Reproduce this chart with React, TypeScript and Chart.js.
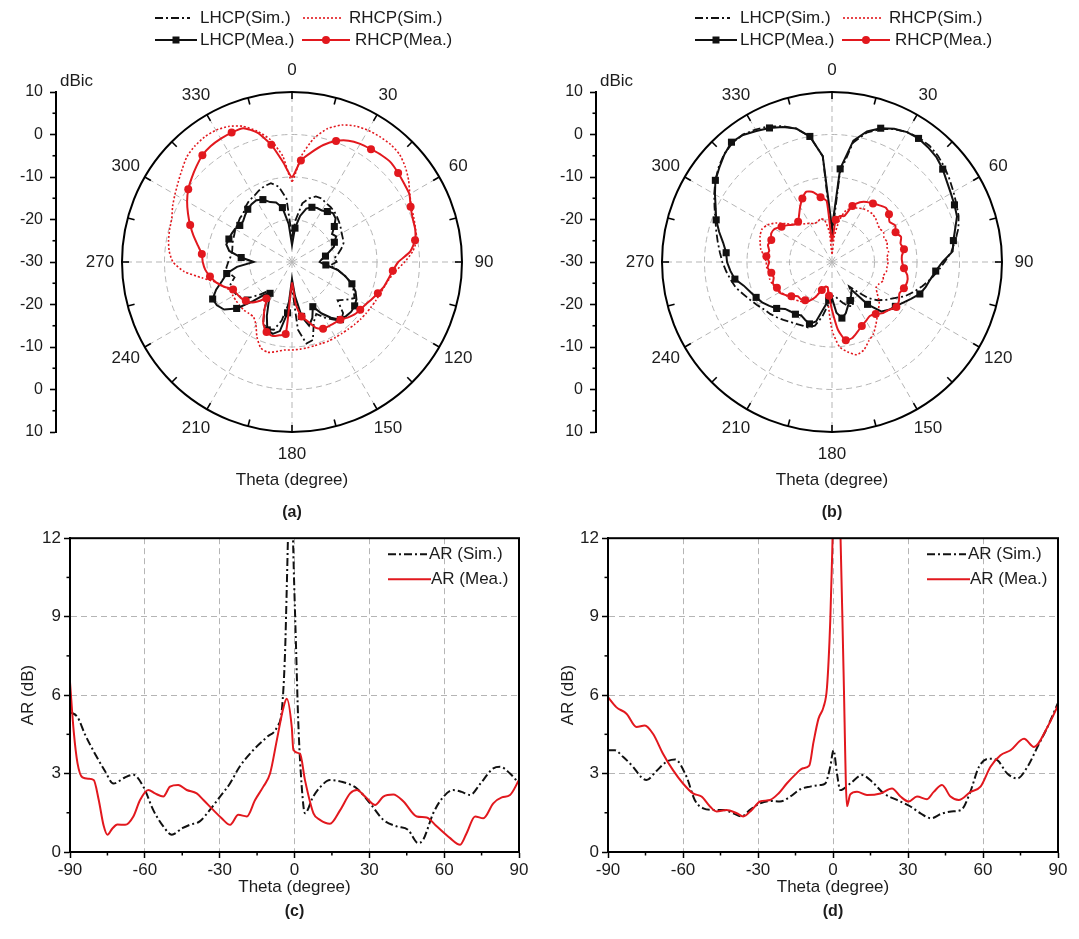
import React, { useEffect, useRef } from 'react';
import { Chart, registerables } from 'chart.js';

Chart.register(...registerables);

const FONT = '"Liberation Sans", Arial, Helvetica, sans-serif';
Chart.defaults.font.family = FONT;
Chart.defaults.color = '#1c1c1c';

const RED = '#e2181e';
const INK = '#111111';
const GRID = '#b5b5b5';
const TEXT = '#1c1c1c';

// ---------- polar panels (a), (b) ----------
const ANGLES = [
  0, 5, 10, 15, 20, 25, 30, 35, 40, 45, 50, 55,
  60, 65, 70, 75, 80, 85, 90, 95, 100, 105, 110, 115,
  120, 125, 130, 135, 140, 145, 150, 155, 160, 165, 170, 175,
  180, 185, 190, 195, 200, 205, 210, 215, 220, 225, 230, 235,
  240, 245, 250, 255, 260, 265, 270, 275, 280, 285, 290, 295,
  300, 305, 310, 315, 320, 325, 330, 335, 340, 345, 350, 355,
];
const DB_TICK_LABELS = ['10', '0', '-10', '-20', '-30', '-20', '-10', '0', '10'];
const DB_MINOR = [-3.5, -2.5, -1.5, -0.5, 0.5, 1.5, 2.5, 3.5];

const A_LHCP_SIM = [
  -24, -20, -16, -14.5, -13.6, -13.5, -14, -14.2, -14.5, -15, -15.5, -16,
  -16.5, -16.8, -17.1, -18, -19, -20, -19.5, -21, -19, -17, -15, -14,
  -13, -14.5, -16, -13, -12, -13.5, -15, -16.5, -15, -11, -10.5, -14,
  -24, -20, -16, -13.5, -13.2, -14, -17, -20, -21, -19, -17, -15.5,
  -14.8, -14.5, -14.6, -16, -15, -14.5, -15, -15.5, -15.7, -15.5, -15.2, -15,
  -14.6, -14.4, -14, -13.8, -13, -12.4, -12.1, -11.5, -11, -10.8, -12, -15,
];
const A_LHCP_MEA = [
  -26, -22, -19, -17, -16.3, -16, -16, -15.5, -15, -15.5, -17, -18.5,
  -18, -19, -19.5, -21, -22, -23, -23.5, -22, -19, -17, -15, -13.5,
  -12.5, -12, -11.8, -12, -12.3, -14, -16, -18.4, -16, -14.5, -17, -22,
  -26, -18, -13.5, -12.5, -13, -16, -19, -21, -20, -17, -13, -10.5,
  -9.6, -9.4, -11, -13, -14.4, -17, -21, -18, -15, -14, -14.2, -14.3,
  -14.5, -15, -15, -14.4, -13.8, -13.4, -13.2, -13.8, -15, -15.5, -17, -21,
];
const A_RHCP_SIM = [
  -11, -5, -0.5, 2.5, 4.3, 5.3, 5.8, 6.0, 6.1, 5.8, 4.8, 3.5,
  2.0, 1.0, 0.5, 0.1, -0.2, -1.5, -3.5, -5.5, -6.8, -7.5, -8.0, -8.3,
  -8.6, -8.8, -9.0, -9.2, -9.4, -9.5, -9.5, -9.5, -9.6, -9.6, -9.5, -9.4,
  -9.3, -9.2, -8.6, -8.0, -8.5, -10.5, -13, -14.2, -14.2, -14, -14, -14,
  -14, -14, -13, -11.5, -8.5, -4.5, -2, -1, -0.5, -0.2, 0.1, 1.0,
  1.8, 2.7, 3.8, 5.0, 5.6, 5.9, 5.8, 5.2, 4.0, 1.9, -0.8, -5,
];
const A_RHCP_MEA = [
  -10, -6, -3.8, -1.5, 0.3, 1.5, 2.1, 2.4, 2.8, 3.0, 2.6, 2.2,
  1.9, 0.8, 0.2, 0.0, -0.6, -2.1, -5, -6.2, -7.0, -7.6, -8.5, -9.3,
  -10, -10.4, -10.8, -11.5, -12.3, -12.5, -12.6, -12.7, -13.5, -15.5, -17, -20,
  -25, -13, -12.5, -12, -12.5, -14, -17, -19.5, -18, -16.5, -15.8, -15.3,
  -15, -14.7, -13, -11.5, -10.4, -9.5, -9, -8.7, -7.5, -6, -4.5, -3,
  -1.5, -0.2, 0.8, 1.8, 2.8, 3.3, 3.5, 3.6, 3.5, 1.5, -2, -6.5,
];

const B_LHCP_SIM = [
  -24, -9, -1.5, 1.5, 3.3, 4.5, 5.3, 5.7, 5.7, 5.3, 4.6, 3.8,
  3.0, 2.3, 1.7, 0.8, -0.5, -1.8, -3.5, -5, -6.5, -8, -9.5, -11,
  -13, -14.5, -16, -18, -21, -23, -20, -18.5, -19, -20, -21, -22,
  -22, -20, -17, -14.5, -13.6, -13.5, -13.2, -12.8, -12.2, -11.6, -11, -10.5,
  -9.7, -8.8, -7.8, -6.6, -5.8, -5, -4.2, -3.5, -2.7, -1.8, -0.8, 0.5,
  2, 3.5, 4.8, 5.9, 6.5, 6.6, 6.0, 5.2, 4.0, 2.5, 0, -5,
];
const B_LHCP_MEA = [
  -22, -8, -1, 1.8, 3.5, 4.6, 5.3, 5.5, 5.2, 4.8, 4.0, 3.0,
  2.3, 1.8, 1.3, 0.0, -1.0, -1.5, -4.0, -5.5, -6.5, -7.2, -8.0, -9.5,
  -10.8, -11.8, -12.5, -13.5, -17, -22, -21, -20, -19, -17.5, -16.6, -18,
  -21.5, -21, -19, -15.5, -14.5, -15, -15.5, -15, -14.8, -14.4, -13, -12,
  -11, -10.3, -9.5, -8.5, -6.8, -6, -5.3, -5, -4, -2.5, -1, 0.2,
  1.8, 3.5, 4.6, 5.8, 6.8, 6.5, 5.6, 4.8, 3.8, 2.5, 0, -5,
];
const B_RHCP_SIM = [
  -28, -24, -20, -17.5, -16.5, -16, -15.5, -15.3, -15.2, -15.5, -16, -16.3,
  -16, -16.5, -16.2, -16.6, -16.5, -17, -16.8, -17, -17, -17.5, -17.2, -17.8,
  -18, -17, -15.5, -14.5, -13.4, -12, -10.5, -9.5, -8, -7.4, -8.5, -10,
  -14, -20, -24, -24, -23, -21, -19.5, -18.5, -18, -17.5, -17, -16.5,
  -16, -15.5, -15, -14.8, -15, -14.6, -14.5, -14, -13, -12.5, -12, -11.8,
  -12.5, -14, -16, -17.5, -18.5, -19, -19.5, -20, -20, -19.5, -20, -23,
];
const B_RHCP_MEA = [
  -25, -20, -19, -18.8, -16, -14.5, -13.7, -13.2, -12.6, -12, -12.5, -13.5,
  -12.8, -13.5, -12.7, -13.3, -12.8, -13.5, -13.5, -13, -12, -11.7, -12, -12.5,
  -11.8, -11.5, -12.5, -13, -14, -14.5, -14, -13.4, -12.5, -11.5, -11.3, -14,
  -18.7, -22, -24, -24, -23, -21, -19.5, -19, -18.6, -18.6, -17.5, -16.5,
  -15.7, -15.7, -15.2, -15.8, -15.5, -14.8, -15.2, -14.5, -15, -14.4, -14.8, -14.2,
  -14.4, -15.5, -16.5, -17.5, -17.6, -16.5, -15, -13.5, -12.4, -13, -14.5, -15.6,
];

// ---------- axial ratio panels (c), (d) ----------
const THETA_MINOR = [-75, -45, -15, 15, 45, 75];
const AR_MINOR = [1.5, 4.5, 7.5, 10.5];

const C_SIM_X = [-90, -87, -84, -80, -76, -72.6, -68, -64.6, -60.6, -56.6, -52.6, -49.2, -45, -42, -38, -34, -30, -26, -22, -16.5, -11, -7, -5, -3.8, -3.1, -2.2, -1.2, -0.6, 0.6, 1.5, 2.9, 4.2, 7.4, 10.5, 14.2, 18.3, 25, 30.3, 35.6, 41, 45.5, 49.6, 51.6, 55.6, 59.6, 63.6, 67, 70.4, 74.4, 79.7, 82.4, 86.4, 90];
const C_SIM_Y = [5.35, 5.16, 4.5, 3.76, 3.1, 2.62, 2.85, 2.95, 2.5, 1.6, 0.98, 0.66, 0.91, 1.04, 1.17, 1.6, 2.1, 2.6, 3.26, 3.9, 4.4, 4.78, 5.5, 7.6, 10.1, 13.5, 15, 12, 7.9, 5.0, 2.5, 1.48, 2.1, 2.5, 2.75, 2.7, 2.43, 1.86, 1.23, 0.98, 0.85, 0.34, 0.47, 1.48, 2.1, 2.37, 2.3, 2.18, 2.6, 3.2, 3.26, 3.0, 2.62];
const C_MEA_X = [-90, -88.5, -87, -85, -82.5, -80.5, -78.5, -76.5, -75, -73, -71, -67.9, -64.6, -61.9, -58.6, -55.9, -52.6, -49.9, -46.6, -43.2, -39.2, -36.5, -32.5, -29.2, -25.8, -22.5, -19.1, -15.8, -12.5, -9.8, -7.1, -4.4, -3.1, -1.1, -0.45, 2.2, 4.2, 7.6, 10.2, 14.2, 18.3, 22.3, 25, 28.3, 32.3, 35.6, 39.6, 43.7, 49, 53, 57, 62.4, 66.4, 69, 72.4, 75.7, 79.7, 83.1, 86.4, 90];
const C_MEA_Y = [6.5, 4.6, 3.4, 2.85, 2.8, 2.75, 2.0, 1.0, 0.66, 0.9, 1.05, 1.04, 1.36, 1.99, 2.37, 2.24, 2.12, 2.5, 2.56, 2.37, 2.24, 1.99, 1.6, 1.29, 1.04, 1.42, 1.36, 1.99, 2.5, 3.0, 4.27, 5.54, 5.86, 4.78, 3.9, 3.76, 2.75, 1.48, 1.23, 1.08, 1.6, 2.24, 2.37, 2.12, 1.8, 2.12, 2.2, 1.93, 1.36, 1.32, 0.98, 0.53, 0.28, 0.72, 1.36, 1.29, 1.86, 2.09, 2.18, 2.75];

const D_SIM_X = [-90, -87.3, -84, -80, -76.6, -74.6, -70.6, -66.6, -63.2, -58.6, -55.3, -51.9, -47.9, -43.9, -39.9, -36.5, -33.2, -29.2, -25.2, -21.2, -17.1, -13.1, -9.1, -5.1, -3.1, -1.1, 0.2, 1.6, 2.9, 6.9, 11.6, 15.6, 20.3, 25.6, 31, 35, 39.3, 43.3, 47.3, 51.3, 54.7, 58.4, 62.4, 65.7, 69.7, 73.7, 77.8, 81.8, 85.8, 90];
const D_SIM_Y = [3.89, 3.89, 3.64, 3.26, 2.85, 2.75, 3.1, 3.45, 3.54, 2.88, 1.99, 1.67, 1.61, 1.61, 1.48, 1.36, 1.61, 1.86, 1.95, 1.93, 2.12, 2.4, 2.5, 2.56, 2.62, 3.26, 3.89, 3.0, 2.37, 2.62, 2.94, 2.69, 2.24, 1.99, 1.74, 1.48, 1.29, 1.46, 1.55, 1.61, 2.24, 3.26, 3.57, 3.51, 3.0, 2.81, 3.26, 4.02, 4.78, 5.7];
const D_MEA_X = [-90, -86.7, -82.6, -78.6, -75.3, -72, -68, -64, -60, -56, -52.6, -49.2, -46.6, -42.6, -38.5, -35.9, -32.5, -29.2, -25.2, -21.8, -18.5, -15.2, -12, -9.5, -7.8, -5.8, -3.8, -2.4, -1.1, -0.3, 0.4, 2.2, 2.9, 4.2, 5.6, 6.9, 9.6, 13.6, 19, 23.6, 27, 30.3, 33.6, 37.6, 40.3, 43.6, 47, 50.3, 55, 59, 63, 67, 71, 76.4, 80.4, 85.8, 90];
const D_MEA_Y = [5.92, 5.54, 5.29, 4.78, 4.84, 4.52, 3.76, 3.13, 2.62, 2.24, 2.12, 1.74, 1.55, 1.61, 1.48, 1.36, 1.61, 1.93, 1.99, 2.24, 2.62, 2.95, 3.2, 3.3, 4.2, 5.1, 5.54, 6.3, 8.83, 11.5, 14, 14, 12.5, 7, 1.75, 2.2, 2.3, 2.18, 2.24, 2.43, 2.12, 1.93, 2.12, 2.02, 2.3, 2.56, 2.12, 1.99, 2.3, 2.5, 3.26, 3.7, 3.89, 4.33, 4.02, 4.78, 5.6];

const DASH_DOT = [8, 3, 2, 3];
const DOTTED = [2, 2];

// ---------- drawing helpers ----------
function sample(ctx: any, x1: number, x2: number, y: number, color: string, width: number, dash: number[]) {
  ctx.save();
  ctx.strokeStyle = color;
  ctx.lineWidth = width;
  ctx.setLineDash(dash);
  ctx.beginPath();
  ctx.moveTo(x1, y);
  ctx.lineTo(x2, y);
  ctx.stroke();
  ctx.restore();
}
function marker(ctx: any, x: number, y: number, style: string, color: string) {
  ctx.save();
  ctx.fillStyle = color;
  if (style === 'rect') ctx.fillRect(x - 3.5, y - 3.5, 7, 7);
  else {
    ctx.beginPath();
    ctx.arc(x, y, 4, 0, Math.PI * 2);
    ctx.fill();
  }
  ctx.restore();
}

function polarDecor(caption: string) {
  return {
    id: 'polarDecor',
    afterDraw(chart: any) {
      const ctx = chart.ctx;
      const r = chart.scales.r;
      const ya = chart.scales.y;
      const cx = r.xCenter;
      const cy = r.yCenter;
      const R = r.drawingArea;
      ctx.save();
      ctx.setLineDash([]);
      ctx.strokeStyle = '#000';
      ctx.lineWidth = 1.6;
      ANGLES.forEach((a, i) => {
        if (a % 15 !== 0) return;
        const p1 = r.getPointPosition(i, R);
        const p2 = r.getPointPosition(i, R - 7);
        ctx.beginPath();
        ctx.moveTo(p1.x, p1.y);
        ctx.lineTo(p2.x, p2.y);
        ctx.stroke();
      });
      DB_MINOR.forEach((v) => {
        const y = ya.getPixelForValue(v);
        ctx.beginPath();
        ctx.moveTo(ya.right, y);
        ctx.lineTo(ya.right - 3.5, y);
        ctx.stroke();
      });
      ctx.fillStyle = TEXT;
      ctx.font = `17px ${FONT}`;
      ctx.textAlign = 'center';
      ctx.textBaseline = 'middle';
      ANGLES.forEach((a, i) => {
        if (a % 30 !== 0) return;
        const p = r.getPointPosition(i, R + 22);
        ctx.fillText(String(a), p.x, p.y);
      });
      ctx.fillText('Theta (degree)', cx, cy + R + 48);
      ctx.textAlign = 'left';
      ctx.fillText('dBic', ya.right + 4, ya.top - 11);
      ctx.font = `bold 16px ${FONT}`;
      ctx.textAlign = 'center';
      ctx.fillText(caption, cx, cy + R + 81);

      // legend
      const y1 = cy - R - 74;
      const y2 = cy - R - 52;
      ctx.font = `17px ${FONT}`;
      ctx.textAlign = 'left';
      sample(ctx, cx - 137, cx - 102, y1, INK, 2, DASH_DOT);
      ctx.fillText('LHCP(Sim.)', cx - 92, y1);
      sample(ctx, cx + 11, cx + 50, y1, RED, 1.6, DOTTED);
      ctx.fillText('RHCP(Sim.)', cx + 57, y1);
      sample(ctx, cx - 137, cx - 95, y2, INK, 2, []);
      marker(ctx, cx - 116, y2, 'rect', INK);
      ctx.fillText('LHCP(Mea.)', cx - 92, y2);
      sample(ctx, cx + 10, cx + 58, y2, RED, 2, []);
      marker(ctx, cx + 34, y2, 'circle', RED);
      ctx.fillText('RHCP(Mea.)', cx + 63, y2);
      ctx.restore();
    },
  };
}

function arDecor(caption: string) {
  return {
    id: 'arDecor',
    afterDraw(chart: any) {
      const { ctx, chartArea: ca } = chart;
      const xs = chart.scales.x;
      const ys = chart.scales.y;
      ctx.save();
      ctx.setLineDash([]);
      ctx.strokeStyle = '#000';
      ctx.lineWidth = 2;
      ctx.strokeRect(ca.left, ca.top, ca.right - ca.left, ca.bottom - ca.top);
      ctx.lineWidth = 1.5;
      THETA_MINOR.forEach((v) => {
        const px = xs.getPixelForValue(v);
        ctx.beginPath();
        ctx.moveTo(px, ca.bottom);
        ctx.lineTo(px, ca.bottom + 3.5);
        ctx.stroke();
      });
      AR_MINOR.forEach((v) => {
        const py = ys.getPixelForValue(v);
        ctx.beginPath();
        ctx.moveTo(ca.left, py);
        ctx.lineTo(ca.left - 3.5, py);
        ctx.stroke();
      });
      // legend
      ctx.fillStyle = TEXT;
      ctx.font = `17px ${FONT}`;
      ctx.textAlign = 'left';
      ctx.textBaseline = 'middle';
      const yA = ca.top + 16;
      const yB = ca.top + 41;
      sample(ctx, ca.right - 131, ca.right - 92, yA, INK, 2, DASH_DOT);
      ctx.fillText('AR (Sim.)', ca.right - 90, yA);
      sample(ctx, ca.right - 131, ca.right - 88, yB, RED, 2, []);
      ctx.fillText('AR (Mea.)', ca.right - 88, yB);
      ctx.font = `bold 16px ${FONT}`;
      ctx.textAlign = 'center';
      ctx.fillText(caption, (ca.left + ca.right) / 2, ca.bottom + 60);
      ctx.restore();
    },
  };
}

function PolarPanel(props: { left: number; caption: string; lSim: number[]; lMea: number[]; rSim: number[]; rMea: number[] }) {
  const ref = useRef<HTMLCanvasElement>(null);
  useEffect(() => {
    const markEvery = (c: any, size: number) => (c.dataIndex % 3 === 1 ? size : 0);
    const chart = new Chart(ref.current as HTMLCanvasElement, {
      type: 'radar',
      data: {
        labels: ANGLES.map(String),
        datasets: [
          { label: 'RHCP(Mea.)', data: props.rMea, borderColor: RED, backgroundColor: RED, borderWidth: 2, pointStyle: 'circle', pointRadius: (c: any) => markEvery(c, 4), pointBackgroundColor: RED, pointBorderWidth: 0, fill: false, tension: 0.2 },
          { label: 'LHCP(Mea.)', data: props.lMea, borderColor: INK, backgroundColor: INK, borderWidth: 2, pointStyle: 'rect', pointRadius: (c: any) => markEvery(c, 5), pointBackgroundColor: INK, pointBorderWidth: 0, fill: false, tension: 0 },
          { label: 'RHCP(Sim.)', data: props.rSim, borderColor: RED, borderWidth: 1.6, borderDash: DOTTED, pointRadius: 0, fill: false, tension: 0.2 },
          { label: 'LHCP(Sim.)', data: props.lSim, borderColor: INK, borderWidth: 1.8, borderDash: DASH_DOT, pointRadius: 0, fill: false, tension: 0 },
        ] as any,
      },
      options: {
        animation: false,
        responsive: false,
        events: [],
        layout: { padding: { left: 16, right: 12, top: 92, bottom: 93 } },
        plugins: { legend: { display: false }, tooltip: { enabled: false } },
        scales: {
          r: {
            min: -30,
            max: 10,
            ticks: { display: false, stepSize: 10 },
            pointLabels: { display: false },
            grid: {
              circular: true,
              color: (c: any) => (c.tick.value === 10 ? '#000' : c.tick.value === -30 ? 'rgba(0,0,0,0)' : GRID),
              lineWidth: (c: any) => (c.tick.value === 10 ? 2 : 1),
            },
            border: { dash: (c: any) => (c.tick && c.tick.value === 10 ? [] : [6, 4]) },
            angleLines: {
              display: true,
              color: GRID,
              lineWidth: (c: any) => (c.index % 6 === 0 ? 1 : 0),
              borderDash: [6, 4],
            },
          },
          y: {
            type: 'linear',
            position: 'left',
            min: -4,
            max: 4,
            afterFit: (s: any) => { s.width = 40; },
            ticks: { stepSize: 1, color: TEXT, font: { size: 16 }, padding: 7, callback: (_v: any, i: number) => DB_TICK_LABELS[i] },
            grid: { drawOnChartArea: false, tickLength: 6, tickColor: '#000', tickWidth: 1.6, color: '#000' },
            border: { color: '#000', width: 2 },
          },
        } as any,
      },
      plugins: [polarDecor(props.caption)],
    });
    return () => chart.destroy();
  }, []);
  return (
    <canvas
      ref={ref}
      width={540}
      height={525}
      style={{ position: 'absolute', left: props.left, top: 0, width: 540, height: 525 }}
    />
  );
}

function zip(xs: number[], ys: number[]) {
  return xs.map((x, i) => ({ x, y: ys[i] }));
}

function ArPanel(props: { left: number; caption: string; yWidth: number; rightPad: number; simX: number[]; simY: number[]; meaX: number[]; meaY: number[] }) {
  const ref = useRef<HTMLCanvasElement>(null);
  useEffect(() => {
    const chart = new Chart(ref.current as HTMLCanvasElement, {
      type: 'line',
      data: {
        datasets: [
          { label: 'AR (Mea.)', data: zip(props.meaX, props.meaY), borderColor: RED, borderWidth: 2, pointRadius: 0, fill: false, cubicInterpolationMode: 'monotone' },
          { label: 'AR (Sim.)', data: zip(props.simX, props.simY), borderColor: INK, borderWidth: 2, borderDash: DASH_DOT, pointRadius: 0, fill: false, cubicInterpolationMode: 'monotone' },
        ] as any,
      },
      options: {
        animation: false,
        responsive: false,
        events: [],
        layout: { padding: { left: 0, right: props.rightPad, top: 12, bottom: 41 } },
        plugins: { legend: { display: false }, tooltip: { enabled: false } },
        scales: {
          x: {
            type: 'linear',
            min: -90,
            max: 90,
            afterFit: (s: any) => { s.height = 46; },
            ticks: { stepSize: 30, color: TEXT, font: { size: 17 }, padding: 2, maxRotation: 0 },
            grid: {
              color: (c: any) => (c.tick && (c.tick.value === -90 || c.tick.value === 90) ? 'rgba(0,0,0,0)' : GRID),
              lineWidth: 1,
              tickLength: 6,
              tickColor: '#000',
              tickWidth: 1.5,
            },
            border: { color: '#000', width: 2, dash: [6, 4] },
            title: { display: true, text: 'Theta (degree)', color: TEXT, font: { size: 17 }, padding: { top: 0, bottom: 0 } },
          },
          y: {
            type: 'linear',
            min: 0,
            max: 12,
            afterFit: (s: any) => { s.width = props.yWidth; },
            ticks: { stepSize: 3, color: TEXT, font: { size: 17 }, padding: 3 },
            grid: {
              color: (c: any) => (c.tick && (c.tick.value === 0 || c.tick.value === 12) ? 'rgba(0,0,0,0)' : GRID),
              lineWidth: 1,
              tickLength: 6,
              tickColor: '#000',
              tickWidth: 1.5,
            },
            border: { color: '#000', width: 2, dash: [6, 4] },
            title: { display: true, text: 'AR (dB)', color: TEXT, font: { size: 17 }, padding: { top: 18, bottom: 0 } },
          },
        } as any,
      },
      plugins: [arDecor(props.caption)],
    });
    return () => chart.destroy();
  }, []);
  return (
    <canvas
      ref={ref}
      width={540}
      height={414}
      style={{ position: 'absolute', left: props.left, top: 525, width: 540, height: 414 }}
    />
  );
}

export default function App() {
  return (
    <div style={{ position: 'absolute', left: 0, top: 0, width: 1079, height: 939, background: '#ffffff', overflow: 'hidden' }}>
      <PolarPanel left={0} caption="(a)" lSim={A_LHCP_SIM} lMea={A_LHCP_MEA} rSim={A_RHCP_SIM} rMea={A_RHCP_MEA} />
      <PolarPanel left={540} caption="(b)" lSim={B_LHCP_SIM} lMea={B_LHCP_MEA} rSim={B_RHCP_SIM} rMea={B_RHCP_MEA} />
      <ArPanel left={0} caption="(c)" yWidth={70} rightPad={21} simX={C_SIM_X} simY={C_SIM_Y} meaX={C_MEA_X} meaY={C_MEA_Y} />
      <ArPanel left={540} caption="(d)" yWidth={68} rightPad={22} simX={D_SIM_X} simY={D_SIM_Y} meaX={D_MEA_X} meaY={D_MEA_Y} />
    </div>
  );
}
